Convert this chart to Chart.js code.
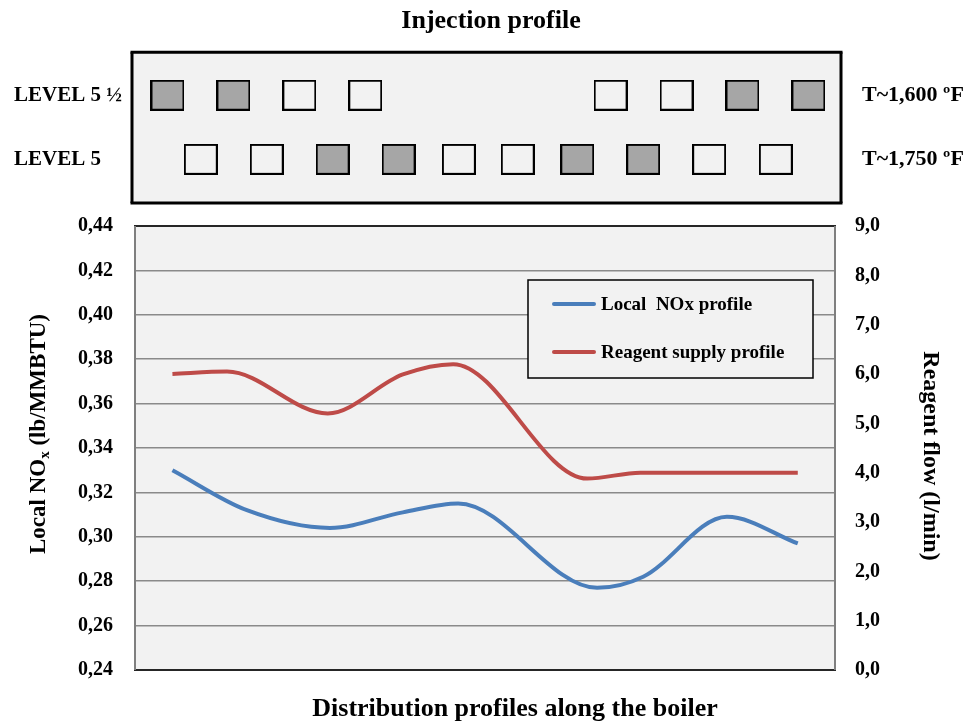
<!DOCTYPE html>
<html>
<head>
<meta charset="utf-8">
<title>Injection profile</title>
<script src="https://cdn.jsdelivr.net/npm/chart.js@4.4.1/dist/chart.umd.min.js"></script>
<style>
  html, body { margin: 0; padding: 0; background: #fff; }
  #wrap { position: relative; width: 968px; height: 724px; }
  #injection { position: absolute; left: 0; top: 0; }
  #profiles { position: absolute; left: 0; top: 210px; }
</style>
</head>
<body>
<div id="wrap">
  <canvas id="injection" width="968" height="210"></canvas>
  <canvas id="profiles" width="968" height="514"></canvas>
</div>
<script>
// Injection lances: position along the boiler (0-100), 1 = lance in service
const levelNames = ['LEVEL 5 ½', 'LEVEL 5'];
const levelTemps = ['T~1,600 ºF', 'T~1,750 ºF'];
const level55Pos = [5.0, 14.3, 23.6, 32.9, 67.5, 76.8, 86.1, 95.4];
const level55On = [1, 1, 0, 0, 0, 0, 1, 1];
const level5Pos = [9.7, 19.0, 28.3, 37.6, 46.1, 54.4, 62.8, 72.1, 81.4, 90.8];
const level5On = [0, 0, 1, 1, 0, 0, 1, 1, 0, 0];

// Distribution profiles along the boiler (same position scale)
const noxPos = [5.7, 16.2, 27.9, 38.2, 46.0, 65.6, 72.1, 83.9, 93.9];
const noxValues = [0.330, 0.312, 0.304, 0.311, 0.315, 0.277, 0.282, 0.309, 0.297];
const reagentPos = [5.7, 13.4, 27.6, 38.2, 45.3, 64.2, 71.7, 93.9];
const reagentValues = [6.0, 6.05, 5.2, 5.99, 6.2, 3.88, 4.0, 4.0];

const seriesNames = ['Local  NOx profile', 'Reagent supply profile'];
const xTitle = 'Distribution profiles along the boiler';
const rightTitle = 'Reagent flow (l/min)';

const family = "'Liberation Serif', 'Times New Roman', serif";
Chart.defaults.font.family = family;
Chart.defaults.font.weight = 'bold';
Chart.defaults.color = '#000';

const comma = (v, d) => v.toFixed(d).replace('.', ',');

// fixed axis width, and no extra room reserved for the end labels
const fixWidth = w => s => {
    s.width = w;
    s.paddingTop = 0;
    s.paddingBottom = 0;
};

// grey plot background + border
const plotFrame = {
    id: 'plotFrame',
    beforeDraw(chart, args, opts) {
        const { ctx, chartArea: a } = chart;
        ctx.save();
        ctx.fillStyle = opts.fill;
        ctx.fillRect(a.left, a.top, a.width, a.height);
        ctx.restore();
    },
    afterDraw(chart, args, opts) {
        const { ctx, chartArea: a } = chart;
        ctx.save();
        ctx.lineWidth = opts.width;
        ctx.strokeStyle = opts.ends;
        ctx.beginPath();
        ctx.moveTo(a.left - opts.width / 2, a.top); ctx.lineTo(a.right + opts.width / 2, a.top);
        ctx.moveTo(a.left - opts.width / 2, a.bottom); ctx.lineTo(a.right + opts.width / 2, a.bottom);
        ctx.stroke();
        ctx.strokeStyle = opts.sides;
        ctx.beginPath();
        ctx.moveTo(a.left, a.top); ctx.lineTo(a.left, a.bottom);
        ctx.moveTo(a.right, a.top); ctx.lineTo(a.right, a.bottom);
        ctx.stroke();
        ctx.restore();
    }
};

// boxed legend inside the plot
const profileLegend = {
    id: 'profileLegend',
    afterDraw(chart) {
        const { ctx, chartArea: a } = chart;
        const left = a.left + 393, top = a.top + 54, w = 285, h = 98;
        ctx.save();
        ctx.fillStyle = '#f2f2f2';
        ctx.fillRect(left, top, w, h);
        ctx.strokeStyle = '#000';
        ctx.lineWidth = 1.5;
        ctx.strokeRect(left, top, w, h);
        ctx.font = 'bold 19px ' + family;
        ctx.textBaseline = 'middle';
        chart.data.datasets.forEach((ds, i) => {
            const y = top + 24 + i * 48;
            ctx.strokeStyle = ds.borderColor;
            ctx.lineWidth = 4;
            ctx.lineCap = 'round';
            ctx.beginPath();
            ctx.moveTo(left + 26, y);
            ctx.lineTo(left + 66, y);
            ctx.stroke();
            ctx.fillStyle = '#000';
            ctx.fillText(ds.label, left + 73, y + 1);
        });
        ctx.restore();
    }
};

// axis titles (left one needs a subscript)
const axisTitles = {
    id: 'axisTitles',
    afterDraw(chart) {
        const { ctx, chartArea: a } = chart;
        const midY = a.top + a.height / 2;

        ctx.save();
        ctx.fillStyle = '#000';
        ctx.translate(a.left - 90, midY - 14);
        ctx.rotate(-Math.PI / 2);
        const parts = [
            ['Local NO', 'bold 23px ' + family, 0],
            ['x', 'bold 15px ' + family, 4],
            [' (lb/MMBTU)', 'bold 23px ' + family, 0]
        ];
        let total = 0;
        parts.forEach(p => { ctx.font = p[1]; total += ctx.measureText(p[0]).width; });
        let x = -total / 2;
        parts.forEach(p => {
            ctx.font = p[1];
            ctx.fillText(p[0], x, p[2]);
            x += ctx.measureText(p[0]).width;
        });
        ctx.restore();

        ctx.save();
        ctx.fillStyle = '#000';
        ctx.translate(a.right + 89, midY + 8);
        ctx.rotate(Math.PI / 2);
        ctx.font = 'bold 24px ' + family;
        ctx.textAlign = 'center';
        ctx.fillText(rightTitle, 0, 0);
        ctx.restore();

        ctx.save();
        ctx.fillStyle = '#000';
        ctx.font = 'bold 26px ' + family;
        ctx.textAlign = 'center';
        ctx.fillText(xTitle, a.left + a.width / 2 + 30, a.bottom + 46);
        ctx.restore();
    }
};

// lance marker images
function lanceImage(fill) {
    const c = document.createElement('canvas');
    c.width = 34;
    c.height = 31;
    const g = c.getContext('2d');
    g.fillStyle = fill;
    g.fillRect(1, 1, 32, 29);
    g.strokeStyle = '#000';
    g.lineWidth = 2;
    g.strokeRect(1, 1, 32, 29);
    return c;
}
const lanceOn = lanceImage('#a6a6a6');
const lanceOff = lanceImage('#f2f2f2');

const rowTicks = s => { s.ticks = levelNames.map((_, i) => ({ value: i })); };

new Chart(document.getElementById('injection'), {
    type: 'scatter',
    data: {
        datasets: [
            {
                data: level55Pos.map(x => ({ x, y: 0 })),
                pointStyle: level55On.map(on => on ? lanceOn : lanceOff),
                pointRadius: 16
            },
            {
                data: level5Pos.map(x => ({ x, y: 1 })),
                pointStyle: level5On.map(on => on ? lanceOn : lanceOff),
                pointRadius: 16
            }
        ]
    },
    options: {
        responsive: false,
        animation: false,
        events: [],
        layout: { autoPadding: false, padding: { top: 6, left: 14, right: 0, bottom: 7 } },
        scales: {
            x: { type: 'linear', min: 0, max: 100, display: false },
            y: {
                position: 'left', reverse: true, min: -0.67, max: 1.68,
                afterBuildTicks: rowTicks,
                afterFit: fixWidth(118),
                ticks: { crossAlign: 'far', font: { size: 21, weight: 'bold' }, callback: v => levelNames[v] },
                grid: { display: false, drawTicks: false },
                border: { display: false }
            },
            y2: {
                position: 'right', reverse: true, min: -0.67, max: 1.68,
                afterBuildTicks: rowTicks,
                afterFit: fixWidth(127),
                ticks: { padding: 21, font: { size: 22, weight: 'bold' }, callback: v => levelTemps[v] },
                grid: { display: false, drawTicks: false },
                border: { display: false }
            }
        },
        plugins: {
            legend: { display: false },
            tooltip: { enabled: false },
            title: {
                display: true,
                text: 'Injection profile',
                font: { size: 26, weight: 'bold' },
                color: '#000',
                padding: { top: 0, bottom: 15 }
            },
            plotFrame: { fill: '#f2f2f2', ends: '#000', sides: '#000', width: 3 }
        }
    },
    plugins: [plotFrame]
});

new Chart(document.getElementById('profiles'), {
    type: 'line',
    data: {
        datasets: [
            {
                label: seriesNames[0],
                data: noxPos.map((x, i) => ({ x, y: noxValues[i] })),
                borderColor: '#4A7EBB',
                borderWidth: 4,
                pointRadius: 0,
                cubicInterpolationMode: 'monotone',
                yAxisID: 'y'
            },
            {
                label: seriesNames[1],
                data: reagentPos.map((x, i) => ({ x, y: reagentValues[i] })),
                borderColor: '#BE4B48',
                borderWidth: 4,
                pointRadius: 0,
                cubicInterpolationMode: 'monotone',
                yAxisID: 'y1'
            }
        ]
    },
    options: {
        responsive: false,
        animation: false,
        events: [],
        layout: { autoPadding: false, padding: { top: 16, bottom: 54 } },
        scales: {
            x: { type: 'linear', min: 0.42, max: 99.15, display: false },
            y: {
                position: 'left', min: 0.24, max: 0.44,
                afterFit: fixWidth(135),
                ticks: { stepSize: 0.02, padding: 22, font: { size: 20, weight: 'bold' }, callback: v => comma(v, 2) },
                grid: { color: '#8a8a8a', lineWidth: 1.5, drawTicks: false },
                border: { display: false }
            },
            y1: {
                position: 'right', min: 0, max: 9,
                afterFit: fixWidth(133),
                ticks: { stepSize: 1, padding: 20, font: { size: 20, weight: 'bold' }, callback: v => comma(v, 1) },
                grid: { display: false, drawTicks: false },
                border: { display: false }
            }
        },
        plugins: {
            legend: { display: false },
            tooltip: { enabled: false },
            plotFrame: { fill: '#f2f2f2', ends: '#262626', sides: '#7f7f7f', width: 2 }
        }
    },
    plugins: [plotFrame, axisTitles, profileLegend]
});
</script>
</body>
</html>
